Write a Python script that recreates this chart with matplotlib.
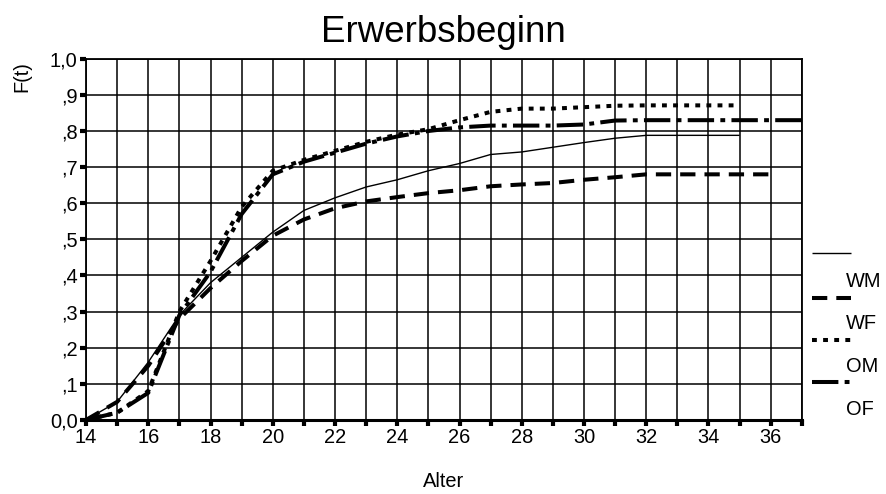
import matplotlib.pyplot as plt
from matplotlib.lines import Line2D

plt.rcParams['font.family'] = ['Liberation Sans', 'DejaVu Sans']
plt.rcParams['lines.scale_dashes'] = False

# Alter (Jahre) und kumulierte Anteile F(t)
age_wm = [14, 15, 16, 17, 18, 19, 20, 21, 22, 23, 24, 25, 26, 27, 28, 29, 30, 31, 32, 33, 34, 35]
f_wm = [0.0, 0.05, 0.16, 0.29, 0.38, 0.45, 0.52, 0.58, 0.615, 0.645, 0.665, 0.69, 0.71, 0.735, 0.742,
        0.755, 0.768, 0.78, 0.788, 0.788, 0.788, 0.788]

age_wf = [14, 15, 16, 17, 18, 19, 20, 21, 22, 23, 24, 25, 26, 27, 28, 29, 30, 31, 32, 33, 34, 35, 36]
f_wf = [0.0, 0.05, 0.15, 0.28, 0.365, 0.44, 0.51, 0.555, 0.586, 0.605, 0.617, 0.628, 0.636, 0.647, 0.652,
        0.656, 0.665, 0.672, 0.68, 0.68, 0.68, 0.68, 0.68]

age_om = [14, 15, 16, 17, 18, 19, 20, 21, 22, 23, 24, 25, 26, 27, 28, 29, 30, 31, 32, 33, 34, 35]
f_om = [0.0, 0.02, 0.08, 0.30, 0.44, 0.59, 0.69, 0.72, 0.745, 0.77, 0.79, 0.805, 0.83, 0.853, 0.862,
        0.862, 0.866, 0.87, 0.871, 0.871, 0.871, 0.871]

age_of = [14, 15, 16, 17, 18, 19, 20, 21, 22, 23, 24, 25, 26, 27, 28, 29, 30, 31, 32, 33, 34, 35, 36, 37]
f_of = [0.0, 0.02, 0.075, 0.29, 0.41, 0.57, 0.68, 0.715, 0.74, 0.765, 0.785, 0.80, 0.81, 0.815, 0.815,
        0.815, 0.818, 0.829, 0.83, 0.83, 0.83, 0.83, 0.83, 0.83]

series = [
    ('WM', age_wm, f_wm, dict(lw=1.0, ls='-')),
    ('WF', age_wf, f_wf, dict(lw=2.9, dashes=(11, 6.5))),
    ('OM', age_om, f_om, dict(lw=2.9, dashes=(3.5, 4.5))),
    ('OF', age_of, f_of, dict(lw=2.9, dashes=(19, 4.5, 3.5, 4.5))),
]

fig = plt.figure(figsize=(8.87, 4.94), dpi=100)
ax = fig.add_axes([0.097, 0.150, 0.807, 0.731])

for name, x, y, style in series:
    ax.plot(x, y, color='black', solid_capstyle='butt', dash_capstyle='butt',
            solid_joinstyle='miter', clip_on=False, zorder=3, **style)

ax.set_xlim(14, 37)
ax.set_ylim(0, 1.0)
ax.set_xticks(range(14, 38))
ax.set_xticklabels([str(v) if v % 2 == 0 else '' for v in range(14, 38)])
yt = [i / 10 for i in range(11)]
ax.set_yticks(yt)
ax.set_yticklabels(['0,0'] + [',%d' % i for i in range(1, 10)] + ['1,0'])
ax.tick_params(axis='both', direction='out', length=4, width=3, labelsize=14.4, pad=2, color='black')
ax.grid(True, color='black', lw=1.1, zorder=1)
for s in ax.spines.values():
    s.set_linewidth(1.3)
ax.spines['bottom'].set_linewidth(2.2)

fig.text(0.5, 0.914, 'Erwerbsbeginn', ha='center', va='baseline', fontsize=26.5)
fig.text(0.025, 0.845, 'F(t)', rotation=90, ha='center', va='center', fontsize=14.4)
fig.text(0.5, 0.026, 'Alter', ha='center', va='center', fontsize=14.4)

# legend: sample line above each label
ys = [0.488, 0.397, 0.312, 0.226]
yl = [0.430, 0.345, 0.259, 0.172]
for (name, x, y, style), ysamp, ylab in zip(series, ys, yl):
    fig.add_artist(Line2D([0.916, 0.959], [ysamp, ysamp], color='black',
                          solid_capstyle='butt', dash_capstyle='butt', **style))
    fig.text(0.954, ylab, name, ha='left', va='center', fontsize=14.4)

fig.savefig('out.png', dpi=100)
